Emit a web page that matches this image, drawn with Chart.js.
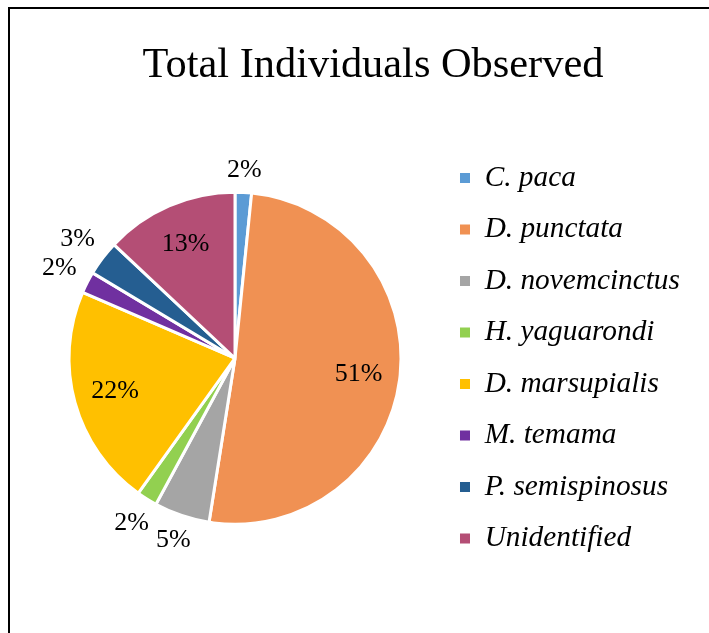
<!DOCTYPE html>
<html>
<head>
<meta charset="utf-8">
<script src="https://cdn.jsdelivr.net/npm/chart.js@4"></script>
<style>
html, body { margin: 0; padding: 0; background: #fff; overflow: hidden; width: 709px; height: 633px; }
#frame { position: absolute; left: 8px; top: 7px; width: 760px; height: 700px; border-left: 2px solid #000; border-top: 2px solid #000; }
#wrap { position: absolute; left: 0; top: 0; width: 709px; height: 633px; }
</style>
</head>
<body>
<div id="frame"></div>
<div id="wrap"><canvas id="c" width="709" height="633"></canvas></div>
<script>
// ---- data (in percent of all individuals) ----
const titleText = 'Total Individuals Observed';
const categories = ['C. paca', 'D. punctata', 'D. novemcinctus', 'H. yaguarondi', 'D. marsupialis', 'M. temama', 'P. semispinosus', 'Unidentified'];
const shares = [1.6, 50.9, 5.4, 2.0, 21.6, 2.1, 3.4, 13.0];
const sliceColors = ['#5B9BD5', '#F09153', '#A5A5A5', '#92D050', '#FFC000', '#7030A0', '#255E91', '#B44E75'];

const SERIF = '"Liberation Serif", "Times New Roman", serif';

// percent labels drawn at each slice using the arc geometry computed by Chart.js
const pctLabels = {
  id: 'pctLabels',
  afterDatasetsDraw(chart) {
    const ctx = chart.ctx;
    const meta = chart.getDatasetMeta(0);
    const data = chart.data.datasets[0].data;
    const total = data.reduce((a, b) => a + b, 0);
    ctx.save();
    ctx.font = '26px ' + SERIF;
    ctx.fillStyle = '#000';
    ctx.textAlign = 'center';
    ctx.textBaseline = 'middle';
    meta.data.forEach((arc, i) => {
      const p = arc.getProps(['x', 'y', 'startAngle', 'endAngle', 'outerRadius'], true);
      const mid = (p.startAngle + p.endAngle) / 2;
      const pct = Math.round(data[i] / total * 100);
      const txt = pct + '%';
      const c = Math.cos(mid), s = Math.sin(mid);
      let r;
      if (pct >= 10) {
        r = p.outerRadius * 0.75;
      } else {
        const w = ctx.measureText(txt).width;
        r = p.outerRadius + 12 + Math.abs(c) * w / 2 + Math.abs(s) * 9;
      }
      ctx.fillText(txt, p.x + c * r, p.y + s * r);
    });
    ctx.restore();
  }
};

// centre the title over the framed area (not only the space left of the legend)
const titleSpan = {
  id: 'titleSpan',
  afterLayout(chart) {
    if (chart.titleBlock) {
      chart.titleBlock.left = 10;
      chart.titleBlock.right = 736;
    }
  }
};

const baseGen = (Chart.overrides.pie || Chart.overrides.doughnut).plugins.legend.labels.generateLabels;

new Chart(document.getElementById('c'), {
  type: 'pie',
  data: {
    labels: categories,
    datasets: [{
      data: shares,
      backgroundColor: sliceColors,
      borderColor: '#FFFFFF',
      borderWidth: 3,
      radius: 166
    }]
  },
  options: {
    responsive: false,
    animation: false,
    layout: { padding: { left: 32.2, right: 19.1, top: 0, bottom: 27 } },
    plugins: {
      title: {
        display: true,
        text: titleText,
        color: '#000',
        font: { family: SERIF, size: 42.4, weight: 'normal' },
        padding: { top: 40, bottom: 19.6 }
      },
      legend: {
        position: 'right',
        align: 'center',
        fullSize: false,
        labels: {
          color: '#000',
          font: { family: SERIF, size: 29.3, style: 'italic' },
          boxWidth: 10,
          boxHeight: 10,
          padding: 22.2,
          generateLabels(chart) {
            const items = baseGen(chart);
            items.forEach(it => { it.lineWidth = 0; it.strokeStyle = it.fillStyle; });
            return items;
          }
        }
      },
      tooltip: { enabled: false }
    }
  },
  plugins: [pctLabels, titleSpan]
});
</script>
</body>
</html>
